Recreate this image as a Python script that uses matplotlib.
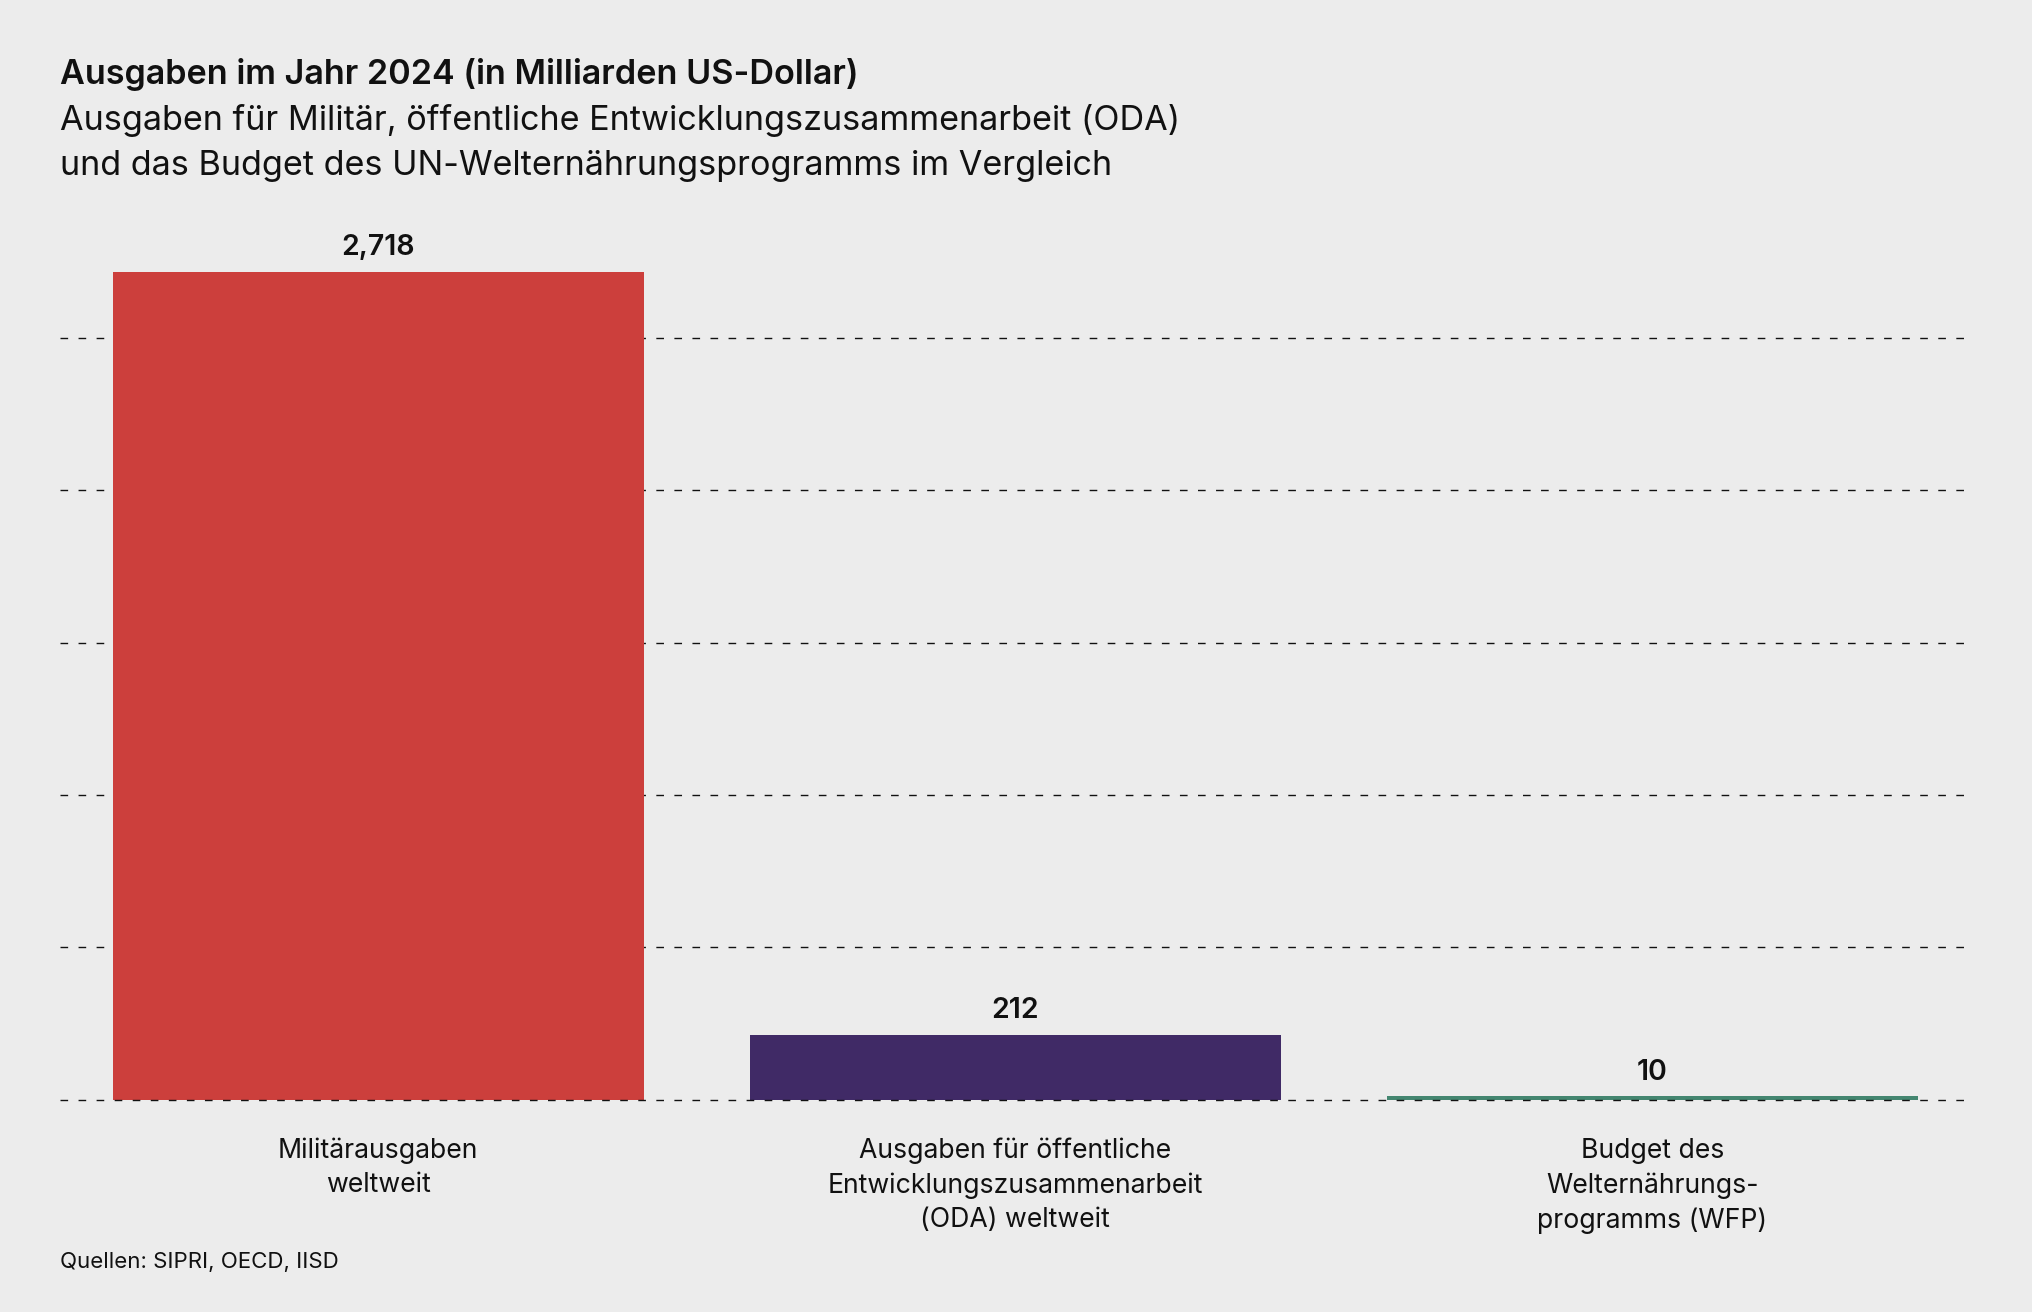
import matplotlib.pyplot as plt
import numpy as np

plt.rcParams['font.family'] = ['Inter', 'DejaVu Sans']

# data
categories = ['Militärausgaben\nweltweit',
              'Ausgaben für öffentliche\nEntwicklungszusammenarbeit\n(ODA) weltweit',
              'Budget des\nWelternährungs-\nprogramms (WFP)']
values = [2718, 212, 10]
colors = ['#cc3f3c', '#402a66', '#448670']
grid_vals = [0, 500, 1000, 1500, 2000, 2500]

title = 'Ausgaben im Jahr 2024 (in Milliarden US-Dollar)'
subtitle_lines = ['Ausgaben für Militär, öffentliche Entwicklungszusammenarbeit (ODA)',
                  'und das Budget des UN-Welternährungsprogramms im Vergleich']
source = 'Quellen: SIPRI, OECD, IISD'

W, H = 2033, 1312
bg = '#ececec'
fig = plt.figure(figsize=(W / 100, H / 100), dpi=100, facecolor=bg)

# axes placed in pixel terms
left, right = 59.6, 1971
y0, ytop = 1099.5, 261.9
ax = fig.add_axes([left / W, (H - y0) / H, (right - left) / W, (y0 - ytop) / H])
ax.set_facecolor(bg)

x = np.arange(len(values))
ax.bar(x, values, width=0.833, color=colors, zorder=2)

for g in grid_vals:
    ax.axhline(g, color='#111111', lw=1.0, ls=(0, (5.5, 7.5)),
               zorder=3 if g == 0 else 1, clip_on=False)

for xi, v in zip(x, values):
    ax.annotate(f'{v:,}', (xi, v), xytext=(0, 12), textcoords='offset points',
                ha='center', va='baseline', fontsize=20.5, fontweight='semibold',
                color='#111111', annotation_clip=False)

ax.set_xlim(-0.5, 2.5)
ax.set_ylim(0, 2750)
ax.set_yticks([])
ax.set_xticks(x)
ax.set_xticklabels(categories, fontsize=19.2, linespacing=1.41, color='#111111')
ax.tick_params(axis='x', length=0, pad=27.5)
for s in ax.spines.values():
    s.set_visible(False)

fig.text(left / W, 1 - 84 / H, title, fontsize=24.6, fontweight='semibold',
         color='#111111', va='baseline')
for i, line in enumerate(subtitle_lines):
    fig.text(left / W, 1 - (130 + 45 * i) / H, line, fontsize=24.6,
             color='#111111', va='baseline')
fig.text(left / W, 1 - 1268 / H, source, fontsize=16, color='#111111',
         va='baseline')

fig.savefig('out.png', dpi=100, facecolor=bg)
